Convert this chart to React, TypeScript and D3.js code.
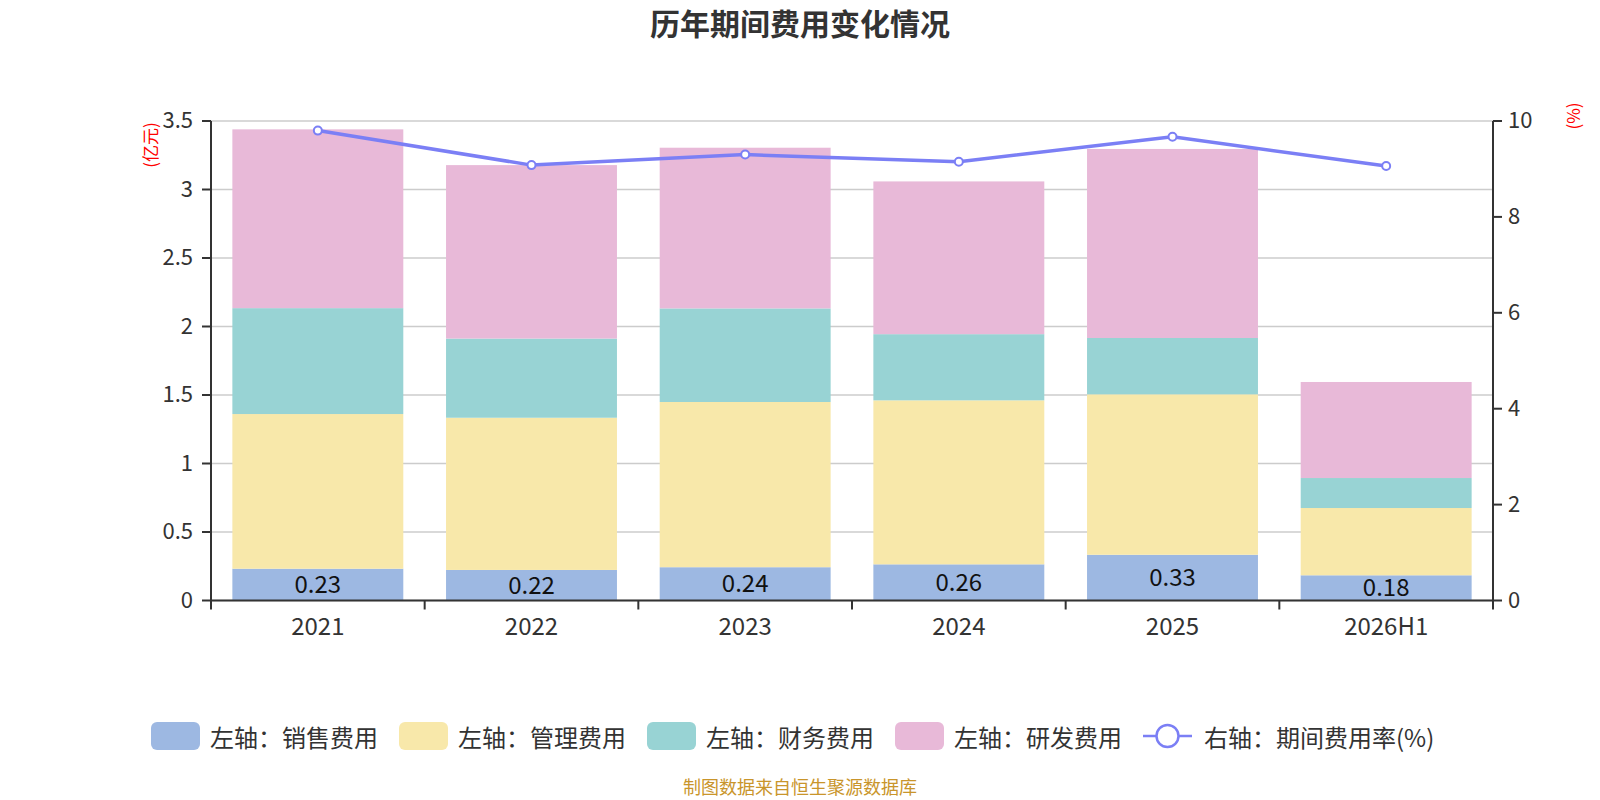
import React from "react";
import * as d3 from "d3";

const categories = ["2021", "2022", "2023", "2024", "2025", "2026H1"];
const salesExpense = [0.232, 0.223, 0.243, 0.264, 0.334, 0.184];
const adminExpense = [1.129, 1.111, 1.206, 1.197, 1.171, 0.491];
const financeExpense = [0.773, 0.578, 0.683, 0.483, 0.411, 0.219];
const rdExpense = [1.305, 1.266, 1.173, 1.115, 1.38, 0.701];
const expenseRate = [9.8, 9.08, 9.3, 9.15, 9.67, 9.06];
const leftTicks = [0, 0.5, 1, 1.5, 2, 2.5, 3, 3.5];
const rightTicks = [0, 2, 4, 6, 8, 10];

const seriesNames = ["左轴：销售费用", "左轴：管理费用", "左轴：财务费用", "左轴：研发费用"];
const lineName = "右轴：期间费用率(%)";
const colors = ["#9db8e2", "#f8e8aa", "#98d3d4", "#e8b9d8"];
const lineColor = "#7b7ff5";

const FONT = "'Microsoft YaHei', 'Noto Sans CJK SC', 'Noto Sans', sans-serif";

export default function App() {
  const W = 1600;
  const H = 800;
  const left = 211;
  const right = 1493;
  const top = 121;
  const bottom = 600.5;

  const x = d3.scaleBand<string>().domain(categories).range([left, right]).paddingInner(0.2).paddingOuter(0.1);
  const step = x.step();
  const yL = d3.scaleLinear().domain([0, 3.5]).range([bottom, top]);
  const yR = d3.scaleLinear().domain([0, 10]).range([bottom, top]);

  const rows = categories.map((c, i) => ({
    cat: c,
    s0: salesExpense[i],
    s1: adminExpense[i],
    s2: financeExpense[i],
    s3: rdExpense[i],
  }));
  const keys = ["s0", "s1", "s2", "s3"];
  const stacked = d3.stack<any>().keys(keys)(rows);

  const line = d3
    .line<number>()
    .x((_, i) => (x(categories[i]) as number) + x.bandwidth() / 2)
    .y((d) => yR(d));

  const boundaries = d3.range(categories.length + 1).map((i) => left + i * step);

  const legendStart = 151;
  const legendStep = 248;
  const legendY = 736;

  return (
    <div style={{ position: "fixed", left: 0, top: 0, width: W, height: H, background: "#fff" }}>
      <svg width={W} height={H} style={{ display: "block", fontFamily: FONT }}>
        <rect width={W} height={H} fill="#fff" />
        <text x={800} y={22} textAnchor="middle" dominantBaseline="central" fontSize={30} fontWeight="bold" fill="#333">
          历年期间费用变化情况
        </text>

        {/* grid */}
        {leftTicks.map((t) => (
          <line key={"g" + t} x1={left} x2={right} y1={yL(t)} y2={yL(t)} stroke="#cccccc" strokeWidth={1.5} />
        ))}

        {/* bars */}
        {stacked.map((layer, li) => (
          <g key={"l" + li}>
            {layer.map((d, i) => (
              <rect
                key={i}
                x={x(categories[i])}
                width={x.bandwidth()}
                y={yL(d[1])}
                height={yL(d[0]) - yL(d[1])}
                fill={colors[li]}
              />
            ))}
          </g>
        ))}

        {/* sales labels */}
        {salesExpense.map((v, i) => (
          <text
            key={"sl" + i}
            x={(x(categories[i]) as number) + x.bandwidth() / 2}
            y={(yL(0) + yL(v)) / 2 - 2}
            textAnchor="middle"
            dominantBaseline="central"
            fontSize={24}
            fill="#111"
          >
            {v.toFixed(2)}
          </text>
        ))}

        {/* left axis */}
        <line x1={left} x2={left} y1={top} y2={bottom} stroke="#333" strokeWidth={2} />
        {leftTicks.map((t) => (
          <g key={"lt" + t}>
            <line x1={left - 9} x2={left} y1={yL(t)} y2={yL(t)} stroke="#333" strokeWidth={2} />
            <text x={left - 18} y={yL(t) - 3} textAnchor="end" dominantBaseline="central" fontSize={22} fill="#333">
              {String(t)}
            </text>
          </g>
        ))}

        {/* right axis */}
        <line x1={right} x2={right} y1={top} y2={bottom} stroke="#333" strokeWidth={2} />
        {rightTicks.map((t) => (
          <g key={"rt" + t}>
            <line x1={right} x2={right + 9} y1={yR(t)} y2={yR(t)} stroke="#333" strokeWidth={2} />
            <text x={right + 15} y={yR(t) - 3} textAnchor="start" dominantBaseline="central" fontSize={22} fill="#333">
              {String(t)}
            </text>
          </g>
        ))}

        {/* x axis */}
        <line x1={left} x2={right} y1={bottom} y2={bottom} stroke="#333" strokeWidth={2} />
        {boundaries.map((b, i) => (
          <line key={"xt" + i} x1={b} x2={b} y1={bottom} y2={bottom + 9} stroke="#333" strokeWidth={2} />
        ))}
        {categories.map((c) => (
          <text
            key={"xl" + c}
            x={(x(c) as number) + x.bandwidth() / 2}
            y={624}
            textAnchor="middle"
            dominantBaseline="central"
            fontSize={24}
            fill="#333"
          >
            {c}
          </text>
        ))}

        {/* axis names */}
        <text
          transform={`translate(149,145) rotate(-90)`}
          textAnchor="middle"
          dominantBaseline="central"
          fontSize={17}
          fill="#ff0000"
        >
          (亿元)
        </text>
        <text
          transform={`translate(1572,116) rotate(-90)`}
          textAnchor="middle"
          dominantBaseline="central"
          fontSize={17}
          fill="#ff0000"
        >
          (%)
        </text>

        {/* line */}
        <path d={line(expenseRate) || ""} fill="none" stroke={lineColor} strokeWidth={3.5} />
        {expenseRate.map((v, i) => (
          <circle
            key={"m" + i}
            cx={(x(categories[i]) as number) + x.bandwidth() / 2}
            cy={yR(v)}
            r={4}
            fill="#fff"
            stroke={lineColor}
            strokeWidth={2}
          />
        ))}

        {/* legend */}
        {seriesNames.map((n, i) => {
          const lx = legendStart + i * legendStep;
          return (
            <g key={"lg" + i}>
              <rect x={lx} y={legendY - 14} width={49} height={28} rx={6} fill={colors[i]} />
              <text x={lx + 59} y={legendY} dominantBaseline="central" fontSize={24} fill="#333">
                {n}
              </text>
            </g>
          );
        })}
        {(() => {
          const lx = legendStart + 4 * legendStep;
          return (
            <g>
              <line x1={lx} x2={lx + 49} y1={legendY} y2={legendY} stroke={lineColor} strokeWidth={2.5} />
              <circle cx={lx + 24.5} cy={legendY} r={11} fill="#fff" stroke={lineColor} strokeWidth={2.5} />
              <text x={lx + 61} y={legendY} dominantBaseline="central" fontSize={24} fill="#333">
                {lineName}
              </text>
            </g>
          );
        })()}

        <text x={800} y={786} textAnchor="middle" dominantBaseline="central" fontSize={18} fill="#c9952b">
          制图数据来自恒生聚源数据库
        </text>
      </svg>
    </div>
  );
}
